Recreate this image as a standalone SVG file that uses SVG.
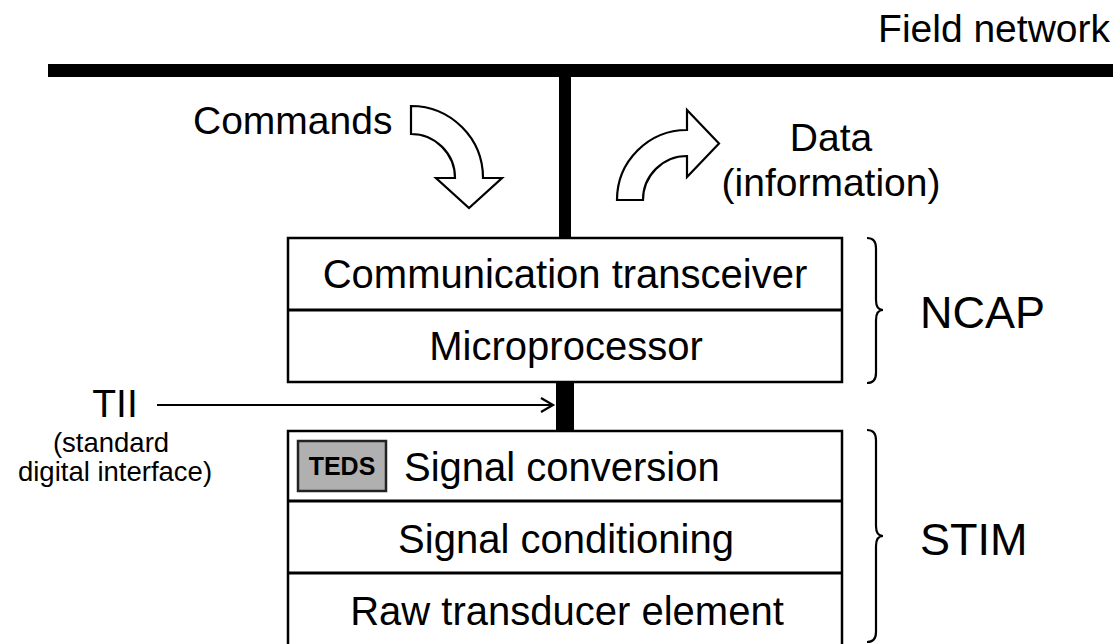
<svg xmlns="http://www.w3.org/2000/svg" width="1113" height="644" viewBox="0 0 1113 644">
  <style>
    .t { font-family: "Liberation Sans", Arial, sans-serif; fill: #000; }
    .m { font-size: 39px; }
    .bx { font-size: 40px; }
    .big { font-size: 45px; }
    .sm { font-size: 27.5px; }
    .c { text-anchor: middle; }
    .box { fill: #fff; stroke: #000; stroke-width: 2.5; }
    .div { stroke: #000; stroke-width: 3; }
    .brace { fill: none; stroke: #000; stroke-width: 2.2; }
    .bigarrow { fill: #fff; stroke: #000; stroke-width: 2.2; stroke-linejoin: miter; }
  </style>

  <!-- field network bus -->
  <g id="bus">
    <rect x="48" y="64" width="1070" height="13" fill="#000"/>
    <text class="t m" x="1110" y="42" text-anchor="end">Field network</text>
  </g>

  <!-- connectors -->
  <g id="connectors">
    <rect x="559" y="76" width="12" height="163" fill="#000"/>
    <rect x="556" y="381" width="18" height="51" fill="#000"/>
    <line x1="157" y1="405" x2="553" y2="405" stroke="#000" stroke-width="2"/>
    <polyline points="541,398 553,405 541,412" fill="none" stroke="#000" stroke-width="2.2"/>
  </g>

  <!-- commands flowing down -->
  <g id="commands">
    <text class="t m" x="193" y="134">Commands</text>
    <path class="bigarrow" d="M411,106 A72,72 0 0 1 483,178 L502,178 L469,208 L436,178 L455,178 A44,44 0 0 0 411,134 Z"/>
  </g>

  <!-- data flowing up -->
  <g id="data">
    <path class="bigarrow" d="M617,200 A70,70 0 0 1 687,130 L687,110 L719,143.5 L687,177 L687,156 A44,44 0 0 0 643,200 Z"/>
    <text class="t m c" x="831" y="151">Data</text>
    <text class="t m c" x="831" y="196">(information)</text>
  </g>

  <!-- NCAP -->
  <g id="ncap">
    <rect class="box" x="288" y="238" width="554" height="144"/>
    <line class="div" x1="288" y1="310" x2="842" y2="310"/>
    <text class="t bx c" x="565" y="288">Communication transceiver</text>
    <text class="t bx c" x="566" y="360">Microprocessor</text>
    <path class="brace" d="M867,238 Q876,238 876,248 L876,300 Q876,310 883,310 Q876,310 876,320 L876,373 Q876,383 867,383"/>
    <text class="t big" x="920" y="328">NCAP</text>
  </g>

  <!-- TII label -->
  <g id="tii">
    <text class="t m c" x="115" y="417">TII</text>
    <text class="t sm c" x="111" y="452">(standard</text>
    <text class="t sm c" x="115" y="481">digital interface)</text>
  </g>

  <!-- STIM -->
  <g id="stim">
    <rect class="box" x="288" y="431" width="554" height="216"/>
    <line class="div" x1="288" y1="501" x2="842" y2="501"/>
    <line class="div" x1="288" y1="573" x2="842" y2="573"/>
    <g id="teds">
      <rect x="298" y="441" width="88" height="50" fill="#b0b0b0" stroke="#222" stroke-width="2.5"/>
      <text class="t c" x="342" y="475" font-size="25" font-weight="bold">TEDS</text>
    </g>
    <text class="t bx" x="404" y="481">Signal conversion</text>
    <text class="t bx c" x="566" y="553">Signal conditioning</text>
    <text class="t bx c" x="567" y="625">Raw transducer element</text>
    <path class="brace" d="M867,430 Q876,430 876,440 L876,526 Q876,536 883,536 Q876,536 876,546 L876,632 Q876,642 867,642"/>
    <text class="t big" x="920" y="555">STIM</text>
  </g>
</svg>
